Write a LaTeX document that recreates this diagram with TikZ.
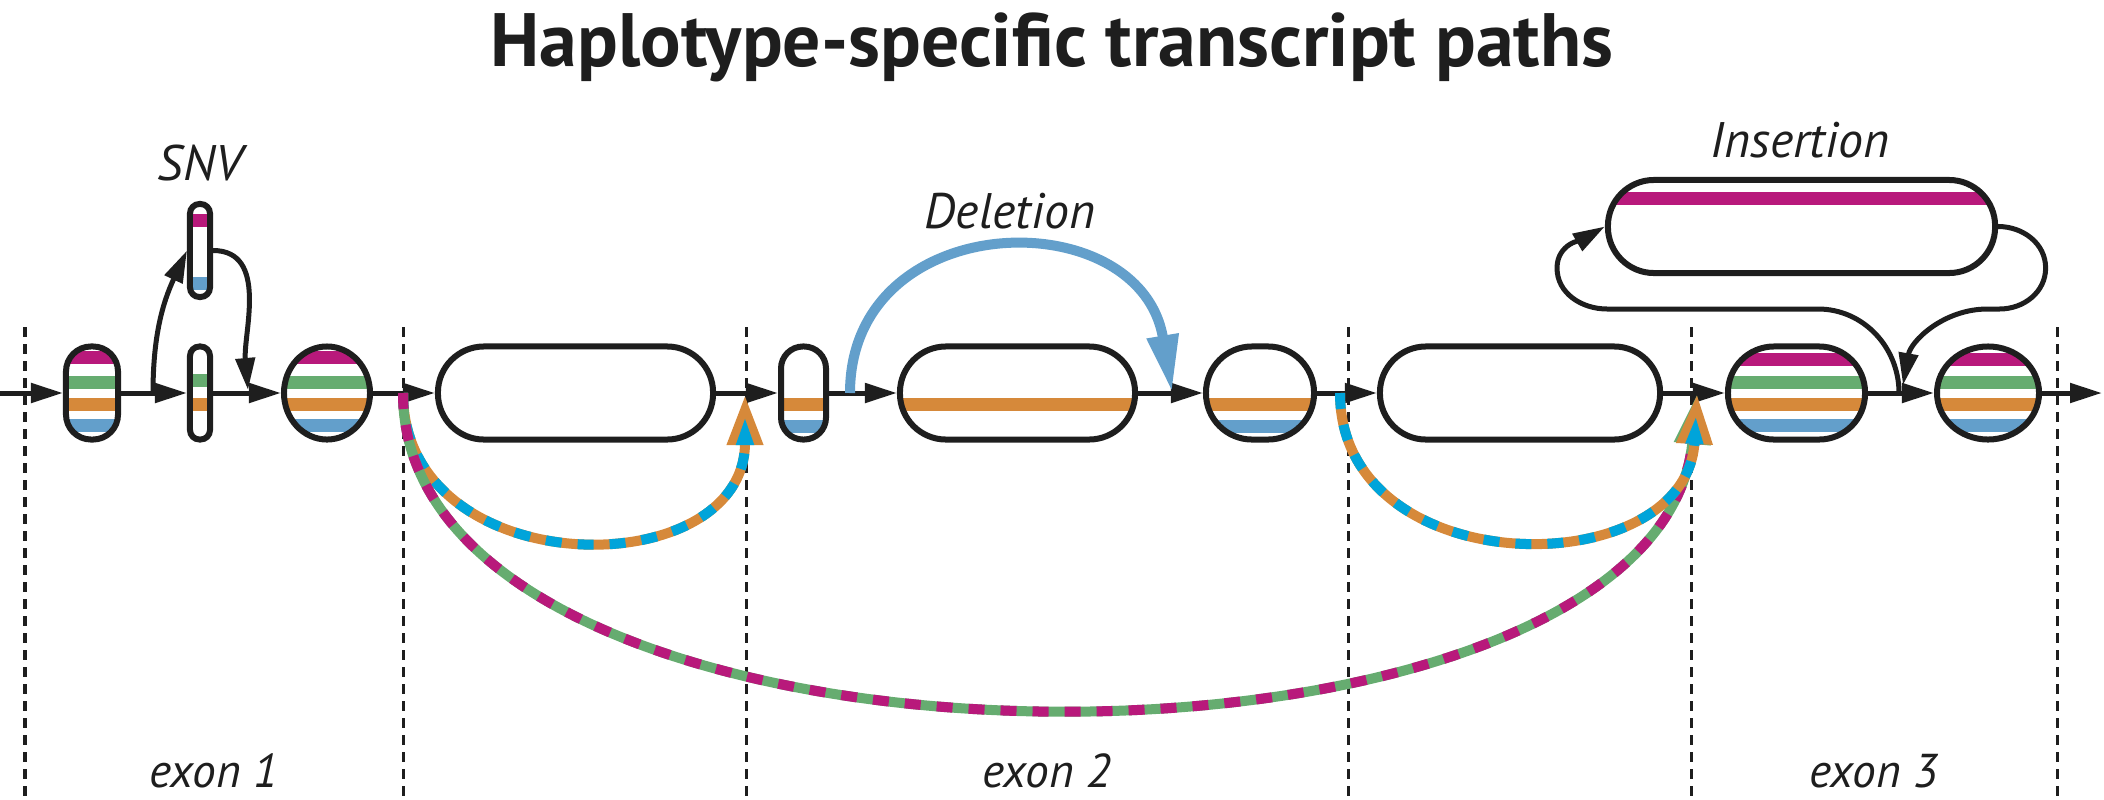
\documentclass[tikz,border=0pt]{standalone}
\usepackage{fontspec}
\setmainfont{PT Sans}
\usetikzlibrary{arrows.meta,shapes.geometric,calc}

\definecolor{ink}{HTML}{1E1E1E}
\definecolor{hapm}{HTML}{B8197B}
\definecolor{hapg}{HTML}{66AC70}
\definecolor{hapo}{HTML}{D6893A}
\definecolor{hapb}{HTML}{639FCB}
\definecolor{hapc}{HTML}{00A4DA}

\tikzset{
  exon/.style={draw=ink, line width=0.06cm, fill=white, inner sep=0pt, minimum height=0.93cm, rounded corners=#1},
  exon/.default=0.46cm,
  round exon/.style={ellipse, draw=ink, line width=0.06cm, fill=white, inner sep=0pt, minimum height=0.93cm},
  stripes/.style={path picture={
    \foreach \c/\o in {#1}
      \fill[\c, sharp corners] ($(path picture bounding box.west)+(0,\o-6.5)$) rectangle ($(path picture bounding box.east)+(0,\o+6.5)$);}},
  flow/.style={draw=ink, line width=0.05cm, -{Triangle[length=0.32cm,width=0.19cm]}},
  divider/.style={draw=ink, line width=0.03cm, dash pattern=on 0.1cm off 0.07cm},
  delpath/.style={draw=hapb, line width=0.1cm, -{Triangle[length=0.57cm,width=0.3cm]}},
  orgpath/.style={draw=hapo, line width=0.1cm, -{Triangle[length=0.5cm,width=0.34cm]}},
  cyandashes/.style={draw=hapc, line width=0.1cm, dash pattern=on 0.16cm off 0.16cm, -{Triangle[length=0.5cm,width=0.13cm]}},
  grnpath/.style={draw=hapg, line width=0.1cm, -{Triangle[length=0.5cm,width=0.34cm]}},
  magdashes/.style={draw=hapm, line width=0.1cm, dash pattern=on 0.16cm off 0.16cm, -{Triangle[length=0.5cm,width=0.13cm]}},
  tag/.style={font=\fontsize{14.2}{17}\selectfont\itshape, text=ink, inner sep=0pt, anchor=base},
  exontag/.style={font=\fontsize{13.5}{16}\selectfont\itshape, text=ink, inner sep=0pt, anchor=base},
  headline/.style={font=\fontsize{21.5}{26}\selectfont\bfseries, text=ink, inner sep=0pt, anchor=base},
}

\begin{document}
\begin{tikzpicture}[x=0.01cm, y=0.01cm]
  \useasboundingbox (0,0) rectangle (2104,799);

 % Title
  \node[headline] (title) at (1052,733) {Haplotype-specific transcript paths};

 % Exon borders
  \foreach \x in {25,403,746,1348,1691,2057}
    \draw[divider] (\x,472) -- (\x,0);

 % Exon 1 with the SNV
  \node[exon=0.25cm, minimum width=0.52cm, stripes={hapm/36,hapg/11,hapo/-11,hapb/-32.5}] (e1) at (92,406) {};
  \node[exon=0.095cm, minimum width=0.20cm, stripes={hapm/30.5,hapb/-33}] (snvA) at (200,548.5) {};
  \node[exon=0.095cm, minimum width=0.20cm, stripes={hapg/12.5,hapo/-11}] (snvB) at (200,406) {};
  \node[round exon, minimum width=0.86cm, stripes={hapm/36,hapg/11,hapo/-11,hapb/-32.5}] (e3) at (327,406) {};

 % Exon 2 with the deletion
  \node[exon, minimum width=2.75cm] (intA) at (575.5,406) {};
  \node[exon=0.22cm, minimum width=0.45cm, stripes={hapo/-11,hapb/-33}] (e5) at (803.5,406) {};
  \node[exon, minimum width=2.35cm, stripes={hapo/-11}] (intB) at (1017.5,406) {};
  \node[exon, minimum width=1.08cm, stripes={hapo/-11,hapb/-33}] (e7) at (1260,406) {};
  \node[exon, minimum width=2.80cm] (intC) at (1520,406) {};

 % Exon 3 with the insertion
  \node[exon, minimum width=1.37cm, stripes={hapm/34,hapg/11,hapo/-11,hapb/-32.5}] (e9) at (1796.5,406) {};
  \node[round exon, minimum width=1.02cm, stripes={hapm/34,hapg/11,hapo/-11,hapb/-32.5}] (e10) at (1988,406) {};
  \node[exon, minimum width=3.87cm, stripes={hapm/28}] (ins) at (1801.5,572.5) {};

 % Points on the main path
  \coordinate (start) at (0,406);
  \coordinate (finish) at (2102,406);
  \coordinate (snvfork) at (153,406);
  \coordinate (snvjoin) at (248,409);
  \coordinate (delfrom) at (850,406);
  \coordinate (delto) at (1172,407);
  \coordinate (skipAfrom) at (403,406);
  \coordinate (skipAto) at (745,404);
  \coordinate (skipBfrom) at (1340,406);
  \coordinate (skipBto) at (1697,405);
  \coordinate (insfrom) at (1899,406);
  \coordinate (insto) at (1903,414);

 % Main path
  \foreach \a/\b in {start/e1, e1/snvB, snvB/e3, e3/intA, intA/e5, e5/intB, intB/e7, e7/intC, intC/e9, e9/e10, e10/finish}
    \draw[flow] (\a) -- (\b);

 % SNV branch
  \draw[flow] (snvfork) to[out=90,in=-115] (snvA.west);
  \draw[flow] (snvA.east) to[out=0,in=95] (snvjoin);

 % Deletion
  \draw[delpath] (delfrom) .. controls +(0,187) and +(-32,192) .. (delto);

 % Insertion loop
  \draw[flow] (insfrom) to[out=90,in=0] ++(-81,84) -- ++(-211,0) to[out=180,in=-90] ++(-50,41) to[out=90,in=-150] (ins.west);
  \draw[flow] (ins.east) to[out=0,in=90] ++(47.5,-41.5) to[out=-90,in=0] ++(-46,-41) -- ++(-12,0) to[out=180,in=80] (insto);

 % Skipping paths
  \draw[orgpath] (skipAfrom) .. controls +(0,-192) and +(0,-192) .. (skipAto);
  \draw[cyandashes] (skipAfrom) .. controls +(0,-192) and +(0,-192) .. (skipAto);
  \draw[grnpath] (skipAfrom) .. controls +(0,-416) and +(-40,-416) .. (skipBto);
  \draw[magdashes] (skipAfrom) .. controls +(0,-416) and +(-40,-416) .. (skipBto);
  \draw[orgpath] (skipBfrom) .. controls +(0,-192) and +(-10,-192) .. (skipBto);
  \draw[cyandashes] (skipBfrom) .. controls +(0,-192) and +(-10,-192) .. (skipBto);

 % Labels
  \node[tag] (snvtxt) at (200,619) {SNV};
  \node[tag] (deltxt) at (1010,571) {Deletion};
  \node[tag] (instxt) at (1800,642) {Insertion};
  \node[exontag] (ex1) at (214,12) {exon 1};
  \node[exontag] (ex2) at (1047,12) {exon 2};
  \node[exontag] (ex3) at (1874,12) {exon 3};

\end{tikzpicture}
\end{document}
